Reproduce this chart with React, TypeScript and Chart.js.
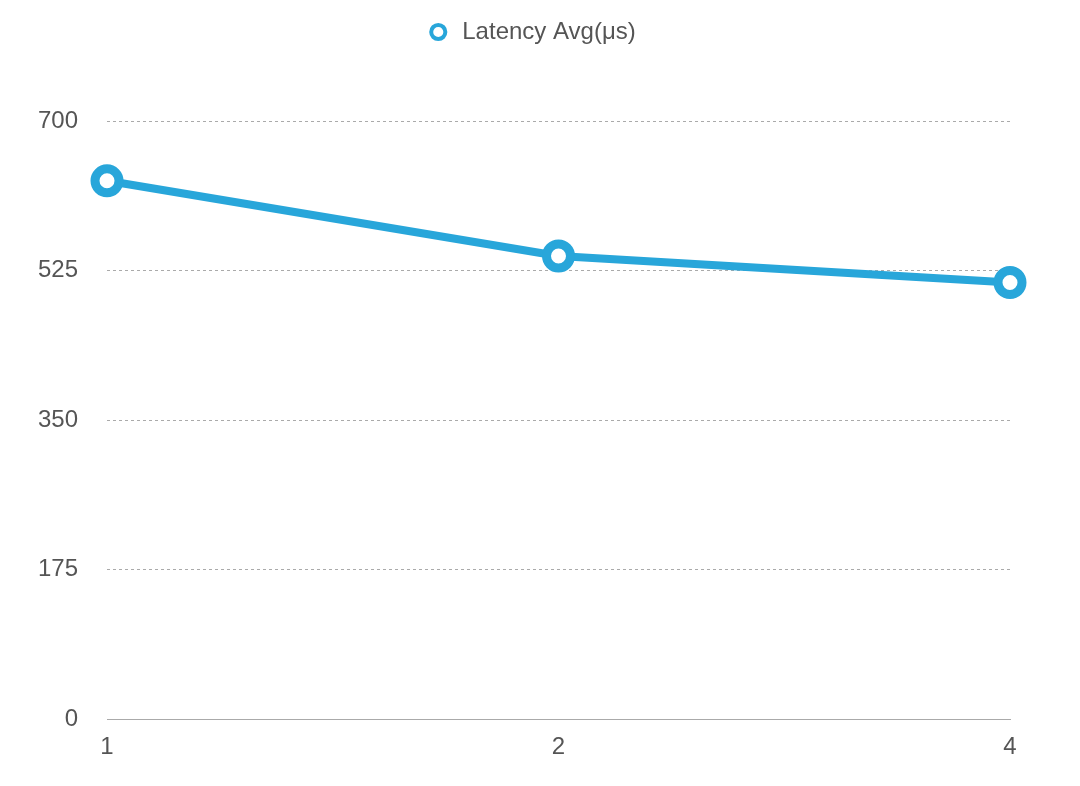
import React, { useEffect, useRef } from "react";
import { Chart, registerables } from "chart.js";

Chart.register(...registerables);

const categories = ["1", "2", "4"];
const latencyAvg = [630, 542, 511];
const seriesLabel = "Latency Avg(μs)";
const yTicks = [0, 175, 350, 525, 700];

const BLUE = "#28a6da";
const TEXT = "#555555";
const FONT = "'Liberation Sans', Helvetica, Arial, sans-serif";

const legendShift = {
  id: "legendShift",
  afterLayout(chart: any) {
    if (chart.legend) {
      chart.legend.left += 26;
      chart.legend.right += 26;
    }
  },
};

export default function App() {
  const ref = useRef<HTMLCanvasElement | null>(null);
  useEffect(() => {
    if (!ref.current) return;
    const chart = new Chart(ref.current, {
      type: "line",
      data: {
        labels: categories,
        datasets: [
          {
            label: seriesLabel,
            data: latencyAvg,
            borderColor: BLUE,
            backgroundColor: "#ffffff",
            borderWidth: 8,
            pointRadius: 12,
            pointBorderWidth: 9,
            pointBackgroundColor: "#ffffff",
            pointBorderColor: BLUE,
            tension: 0,
          },
        ],
      },
      plugins: [legendShift],
      options: {
        animation: false,
        responsive: false,
        layout: { padding: { left: 0, right: 70, top: 8, bottom: 0 } },
        plugins: {
          legend: {
            display: true,
            weight: 3000,
            labels: {
              usePointStyle: true,
              boxWidth: 24,
              boxHeight: 10,
              padding: 12,
              color: TEXT,
              font: { family: FONT, size: 24 },
              generateLabels: () => [
                {
                  text: seriesLabel,
                  fillStyle: "#ffffff",
                  strokeStyle: BLUE,
                  lineWidth: 4,
                  pointStyle: "circle",
                  fontColor: TEXT,
                  datasetIndex: 0,
                  hidden: false,
                },
              ],
            },
          } as any,
          title: {
            display: true,
            text: "",
            font: { size: 10 },
            padding: { top: 0, bottom: 55 },
          },
          tooltip: { enabled: false },
        },
        scales: {
          x: {
            grid: { display: false, drawTicks: false },
            border: { display: true, color: "#aaaaaa", width: 1 },
            ticks: { color: TEXT, font: { family: FONT, size: 24 }, padding: 14 },
            afterFit: (s: any) => {
              s.height = 67;
            },
          },
          y: {
            min: 0,
            max: 700,
            afterBuildTicks: (s: any) => {
              s.ticks = yTicks.map((v) => ({ value: v }));
            },
            grid: { color: "#aaaaaa", lineWidth: 1, drawTicks: false },
            border: { display: false, dash: [3, 3] },
            ticks: { color: TEXT, font: { family: FONT, size: 24 }, padding: 29 },
            afterFit: (s: any) => {
              s.width = 107;
            },
          },
        },
      },
    });
    return () => chart.destroy();
  }, []);
  return (
    <div style={{ position: "fixed", left: 0, top: 0, width: 1080, height: 786, background: "#fff" }}>
      <canvas ref={ref} width={1080} height={786} />
    </div>
  );
}
